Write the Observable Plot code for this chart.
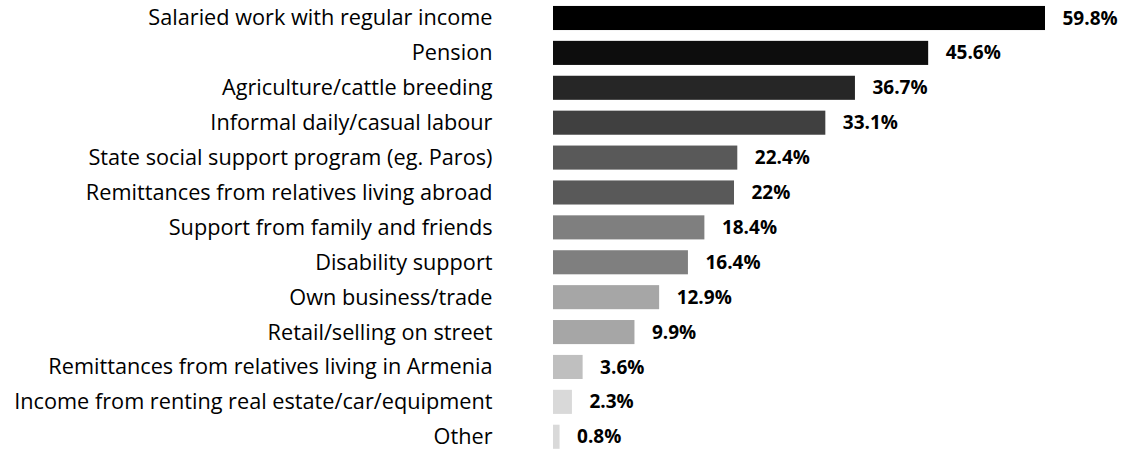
<!DOCTYPE html>
<html>
<head>
<meta charset="utf-8">
<script src="https://cdn.jsdelivr.net/npm/d3@7"></script>
<script src="https://cdn.jsdelivr.net/npm/@observablehq/plot@0.6"></script>
<style>
  html, body { margin: 0; padding: 0; background: #fff; }
  #chart svg { display: block; }
</style>
</head>
<body>
<div id="chart"></div>
<script>
const categories = [
  "Salaried work with regular income",
  "Pension",
  "Agriculture/cattle breeding",
  "Informal daily/casual labour",
  "State social support program (eg. Paros)",
  "Remittances from relatives living abroad",
  "Support from family and friends",
  "Disability support",
  "Own business/trade",
  "Retail/selling on street",
  "Remittances from relatives living in Armenia",
  "Income from renting real estate/car/equipment",
  "Other"
];
const values = [59.8, 45.6, 36.7, 33.1, 22.4, 22, 18.4, 16.4, 12.9, 9.9, 3.6, 2.3, 0.8];

const shades = ["#000000", "#0d0d0d", "#262626", "#404040", "#595959", "#595959",
  "#7f7f7f", "#7f7f7f", "#a6a6a6", "#a6a6a6", "#bfbfbf", "#d9d9d9", "#d9d9d9"];

const data = categories.map((c, i) => ({category: c, value: values[i]}));
const font = "'Open Sans', Lato, sans-serif";

const chart = Plot.plot({
  width: 1125,
  height: 450,
  marginLeft: 553,
  marginRight: 0,
  marginTop: 0,
  marginBottom: 0,
  style: {fontFamily: font, background: "#fff"},
  x: {domain: [0, 59.8], range: [553, 1045], axis: null},
  y: {domain: categories, range: [0.55, 454.2], paddingInner: 0.31, paddingOuter: 0.155, round: false, label: null},
  color: {domain: categories, range: shades},
  marks: [
    Plot.barX(data, {y: "category", x: "value", fill: "category"}),
    Plot.ruleX([0], {stroke: "#d9d9d9", strokeWidth: 1.5, dx: -0.5, y1: 0, y2: 450}),
    Plot.text(data, {
      y: "category", x: "value", text: d => d.value + "%",
      textAnchor: "start", dx: 17, fontWeight: "bold", fontSize: 19, fill: "#000",
      fontFamily: font
    }),
    Plot.axisY({
      anchor: "left", tickSize: 0, tickPadding: 61, fontSize: 21.7,
      fill: "#000", label: null, fontFamily: font
    })
  ]
});
document.getElementById("chart").appendChild(chart);
</script>
</body>
</html>
